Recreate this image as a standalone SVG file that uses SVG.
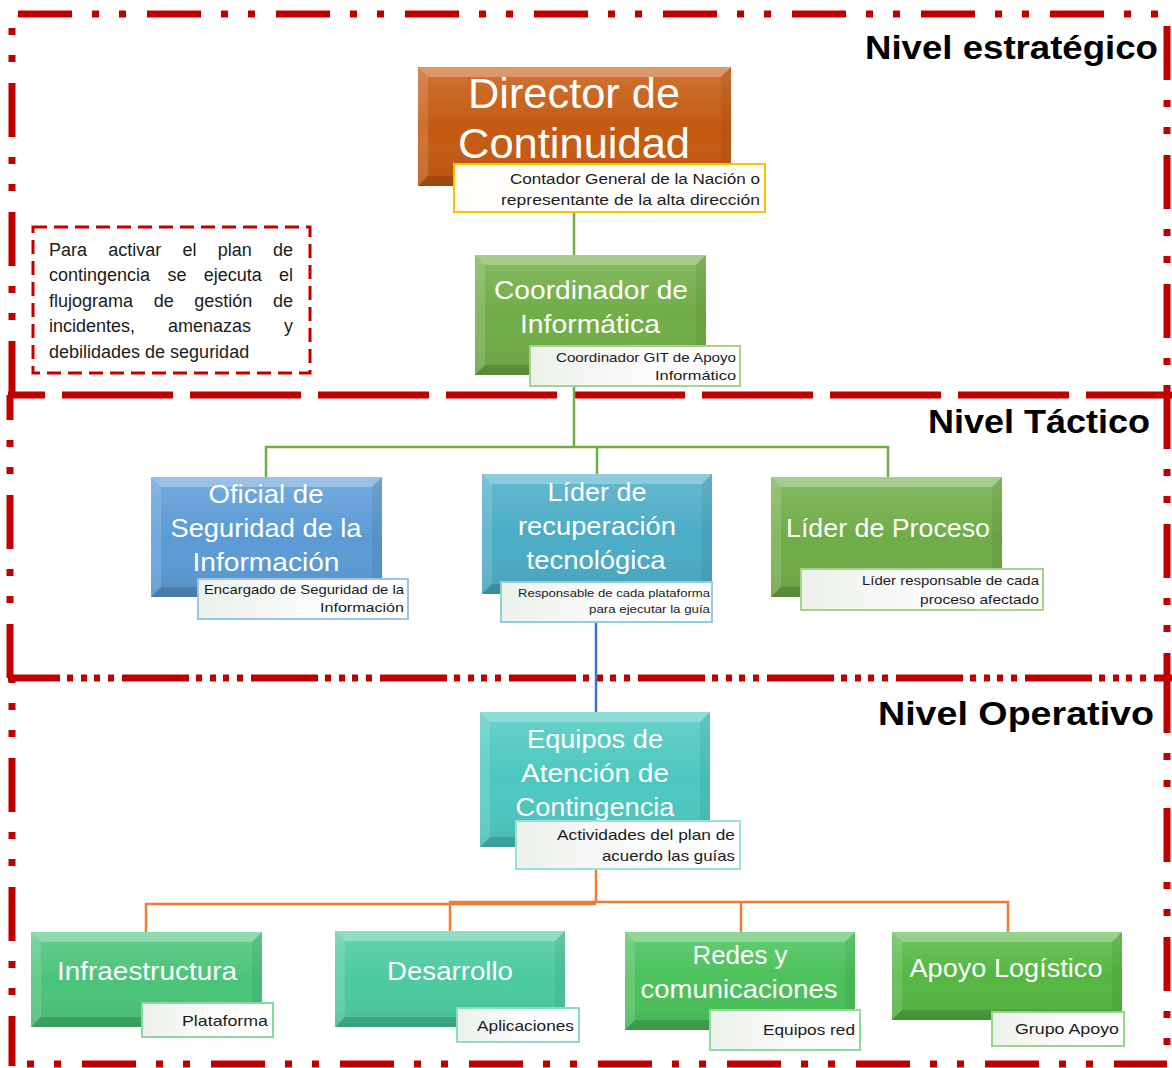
<svg xmlns="http://www.w3.org/2000/svg" width="1172" height="1068" viewBox="0 0 1172 1068">
<defs>
<linearGradient id="shade" x1="0" y1="0" x2="0" y2="1">
<stop offset="0" stop-color="#fff" stop-opacity="0.16"/>
<stop offset="0.5" stop-color="#fff" stop-opacity="0"/>
<stop offset="1" stop-color="#000" stop-opacity="0.08"/>
</linearGradient>
<linearGradient id="subg" x1="0" y1="0" x2="1" y2="0">
<stop offset="0" stop-color="#ECF1EA"/>
<stop offset="0.5" stop-color="#FAFBFA"/>
<stop offset="1" stop-color="#FFFFFF"/>
</linearGradient>
<style>
.fr{fill:none;stroke:#C00000;stroke-width:7}
.dd{stroke-dasharray:54 20 7 20 7 21}
.ld{stroke-dasharray:111 17}
.op{stroke-dasharray:67 7 6 8 6 7 6 8 6 8}
.bt{fill:#fff;opacity:.28}
.bl{fill:#fff;opacity:.14}
.bb{fill:#000;opacity:.14}
.br{fill:#000;opacity:.06}
.ov{fill:url(#shade)}
.t{font-family:"Liberation Sans",Arial,sans-serif;fill:#fff;text-anchor:middle}
.s{font-family:"Liberation Sans",Arial,sans-serif;fill:#1b1b1b;text-anchor:end}
.sb{fill:url(#subg);stroke-width:2}
.lv{font-family:"Liberation Sans",Arial,sans-serif;font-weight:bold;fill:#000;text-anchor:end;font-size:33px}
.nt{font-family:"Liberation Sans",Arial,sans-serif;fill:#1b1b1b;font-size:18px}
.cg{fill:none;stroke:#70AD47;stroke-width:2.5}
.cb{fill:none;stroke:#4472C4;stroke-width:2.5}
.co{fill:none;stroke:#ED7D31;stroke-width:2.5}
</style>
</defs>
<rect width="1172" height="1068" fill="#fff"/>

<g id="frames">
<path class="fr dd" d="M12,14 H1167" stroke-dashoffset="123"/>
<path class="fr dd" d="M12,14 V395" stroke-dashoffset="60"/>
<path class="fr dd" d="M1167,14 V395" stroke-dashoffset="117"/>
<path class="fr ld" d="M8,395 H1172" stroke-dashoffset="74"/>
<path class="fr dd" d="M10,395 V678" stroke-dashoffset="29"/>
<path class="fr dd" d="M1167,395 V678" stroke-dashoffset="0"/>
<path class="fr op" d="M8,678 H1172" stroke-dashoffset="15"/>
<path class="fr dd" d="M12,678 V1066" stroke-dashoffset="49"/>
<path class="fr dd" d="M1167,678 V1066" stroke-dashoffset="128"/>
<path class="fr dd" d="M12,1064 H1167" stroke-dashoffset="59" stroke-width="8"/>
</g>

<g id="levels">
<text class="lv" x="1158" y="59" textLength="293" lengthAdjust="spacingAndGlyphs">Nivel estratégico</text>
<text class="lv" x="1150" y="433" textLength="222" lengthAdjust="spacingAndGlyphs">Nivel Táctico</text>
<text class="lv" x="1154" y="725" textLength="276" lengthAdjust="spacingAndGlyphs">Nivel Operativo</text>
</g>

<g id="note">
<rect x="33" y="227" width="277" height="146" fill="none" stroke="#C00000" stroke-width="3" stroke-dasharray="14 7"/>
<text class="nt" y="256"><tspan x="49">Para</tspan><tspan x="108.3">activar</tspan><tspan x="182.5">el</tspan><tspan x="217.8">plan</tspan><tspan x="273">de</tspan></text>
<text class="nt" y="281"><tspan x="49">contingencia</tspan><tspan x="167.4">se</tspan><tspan x="203.7">ejecuta</tspan><tspan x="279">el</tspan></text>
<text class="nt" y="307"><tspan x="49">flujograma</tspan><tspan x="153.7">de</tspan><tspan x="194.3">gestión</tspan><tspan x="273">de</tspan></text>
<text class="nt" y="332"><tspan x="49">incidentes,</tspan><tspan x="168">amenazas</tspan><tspan x="284">y</tspan></text>
<text class="nt" x="49" y="358">debilidades de seguridad</text>
</g>

<g id="connectors">
<path class="cg" d="M574,212 V255"/>
<path class="cg" d="M574,386 V447"/>
<path class="cg" d="M266,477 V447 H888 V477"/>
<path class="cg" d="M597,447 V474"/>
<path class="cb" d="M596,622 V712"/>
<path class="co" d="M596,869 V903"/>
<path class="co" d="M146,932 V904 H596"/>
<path class="co" d="M450,931 V902 H1008 V932"/>
<path class="co" d="M741,902 V932"/>
</g>

<g id="director">
<rect x="418" y="67" width="313" height="119" fill="#C55A11"/>
<rect class="ov" x="418" y="67" width="313" height="119"/>
<polygon class="bt" points="418,67 731,67 721,77 428,77"/>
<polygon class="bl" points="418,67 428,77 428,176 418,186"/>
<polygon class="bb" points="418,186 428,176 721,176 731,186"/>
<polygon class="br" points="731,67 731,186 721,176 721,77"/>
<text class="t" x="574" y="108" font-size="42" textLength="212" lengthAdjust="spacingAndGlyphs">Director de</text>
<text class="t" x="574" y="158" font-size="42" textLength="232" lengthAdjust="spacingAndGlyphs">Continuidad</text>
<rect class="sb" x="454" y="164" width="311" height="48" stroke="#FFC000" style="fill:#FFFEFB"/>
<text class="s" x="760" y="184" font-size="15.5" textLength="250" lengthAdjust="spacingAndGlyphs">Contador General de la Nación o</text>
<text class="s" x="760" y="205" font-size="15.5" textLength="259" lengthAdjust="spacingAndGlyphs">representante de la alta dirección</text>
</g>

<g id="coordinador">
<rect x="475" y="255" width="231" height="120" fill="#70AD47"/>
<rect class="ov" x="475" y="255" width="231" height="120"/>
<polygon class="bt" points="475,255 706,255 696,265 485,265"/>
<polygon class="bl" points="475,255 485,265 485,365 475,375"/>
<polygon class="bb" points="475,375 485,365 696,365 706,375"/>
<polygon class="br" points="706,255 706,375 696,365 696,265"/>
<text class="t" x="591" y="299" font-size="26" textLength="194" lengthAdjust="spacingAndGlyphs">Coordinador de</text>
<text class="t" x="590" y="333" font-size="26" textLength="140" lengthAdjust="spacingAndGlyphs">Informática</text>
<rect class="sb" x="530" y="346" width="210" height="40" stroke="#A9D18E"/>
<text class="s" x="736" y="362" font-size="13" textLength="180" lengthAdjust="spacingAndGlyphs">Coordinador GIT de Apoyo</text>
<text class="s" x="736" y="380" font-size="13" textLength="81" lengthAdjust="spacingAndGlyphs">Informático</text>
</g>

<g id="oficial">
<rect x="151" y="477" width="231" height="120" fill="#5B9BD5"/>
<rect class="ov" x="151" y="477" width="231" height="120"/>
<polygon class="bt" points="151,477 382,477 372,487 161,487"/>
<polygon class="bl" points="151,477 161,487 161,587 151,597"/>
<polygon class="bb" points="151,597 161,587 372,587 382,597"/>
<polygon class="br" points="382,477 382,597 372,587 372,487"/>
<text class="t" x="266" y="503" font-size="26" textLength="115" lengthAdjust="spacingAndGlyphs">Oficial de</text>
<text class="t" x="266" y="537" font-size="26" textLength="191" lengthAdjust="spacingAndGlyphs">Seguridad de la</text>
<text class="t" x="266" y="571" font-size="26" textLength="147" lengthAdjust="spacingAndGlyphs">Información</text>
<rect class="sb" x="198" y="579" width="210" height="40" stroke="#9DC3E6"/>
<text class="s" x="404" y="594" font-size="13" textLength="200" lengthAdjust="spacingAndGlyphs">Encargado de Seguridad de la</text>
<text class="s" x="404" y="612" font-size="13" textLength="84" lengthAdjust="spacingAndGlyphs">Información</text>
</g>

<g id="lider-recuperacion">
<rect x="482" y="474" width="230" height="120" fill="#4BACC6"/>
<rect class="ov" x="482" y="474" width="230" height="120"/>
<polygon class="bt" points="482,474 712,474 702,484 492,484"/>
<polygon class="bl" points="482,474 492,484 492,584 482,594"/>
<polygon class="bb" points="482,594 492,584 702,584 712,594"/>
<polygon class="br" points="712,474 712,594 702,584 702,484"/>
<text class="t" x="597" y="501" font-size="26" textLength="99" lengthAdjust="spacingAndGlyphs">Líder de</text>
<text class="t" x="597" y="535" font-size="26" textLength="158" lengthAdjust="spacingAndGlyphs">recuperación</text>
<text class="t" x="596" y="569" font-size="26" textLength="139" lengthAdjust="spacingAndGlyphs">tecnológica</text>
<rect class="sb" x="501" y="582" width="211" height="40" stroke="#92CDDC"/>
<text class="s" x="710" y="597" font-size="11.5" textLength="192" lengthAdjust="spacingAndGlyphs">Responsable de cada plataforma</text>
<text class="s" x="710" y="613" font-size="11.5" textLength="121" lengthAdjust="spacingAndGlyphs">para ejecutar la guía</text>
</g>

<g id="lider-proceso">
<rect x="771" y="477" width="231" height="120" fill="#70AD47"/>
<rect class="ov" x="771" y="477" width="231" height="120"/>
<polygon class="bt" points="771,477 1002,477 992,487 781,487"/>
<polygon class="bl" points="771,477 781,487 781,587 771,597"/>
<polygon class="bb" points="771,597 781,587 992,587 1002,597"/>
<polygon class="br" points="1002,477 1002,597 992,587 992,487"/>
<text class="t" x="888" y="537" font-size="26" textLength="204" lengthAdjust="spacingAndGlyphs">Líder de Proceso</text>
<rect class="sb" x="801" y="569" width="242" height="41" stroke="#A9D18E"/>
<text class="s" x="1039" y="585" font-size="13" textLength="177" lengthAdjust="spacingAndGlyphs">Líder responsable de cada</text>
<text class="s" x="1039" y="604" font-size="13" textLength="119" lengthAdjust="spacingAndGlyphs">proceso afectado</text>
</g>

<g id="equipos">
<rect x="480" y="712" width="230" height="135" fill="#4CC8C0"/>
<rect class="ov" x="480" y="712" width="230" height="135"/>
<polygon class="bt" points="480,712 710,712 700,722 490,722"/>
<polygon class="bl" points="480,712 490,722 490,837 480,847"/>
<polygon class="bb" points="480,847 490,837 700,837 710,847"/>
<polygon class="br" points="710,712 710,847 700,837 700,722"/>
<text class="t" x="595" y="748" font-size="26" textLength="136" lengthAdjust="spacingAndGlyphs">Equipos de</text>
<text class="t" x="595" y="782" font-size="26" textLength="148" lengthAdjust="spacingAndGlyphs">Atención de</text>
<text class="t" x="595" y="816" font-size="26" textLength="159" lengthAdjust="spacingAndGlyphs">Contingencia</text>
<rect class="sb" x="516" y="821" width="224" height="48" stroke="#9BE0DA"/>
<text class="s" x="735" y="840" font-size="15" textLength="178" lengthAdjust="spacingAndGlyphs">Actividades del plan de</text>
<text class="s" x="735" y="861" font-size="15" textLength="133" lengthAdjust="spacingAndGlyphs">acuerdo las guías</text>
</g>

<g id="infraestructura">
<rect x="31" y="932" width="231" height="95" fill="#4AC47A"/>
<rect class="ov" x="31" y="932" width="231" height="95"/>
<polygon class="bt" points="31,932 262,932 252,942 41,942"/>
<polygon class="bl" points="31,932 41,942 41,1017 31,1027"/>
<polygon class="bb" points="31,1027 41,1017 252,1017 262,1027"/>
<polygon class="br" points="262,932 262,1027 252,1017 252,942"/>
<text class="t" x="147" y="980" font-size="25" textLength="180" lengthAdjust="spacingAndGlyphs">Infraestructura</text>
<rect class="sb" x="142" y="1003" width="131" height="34" stroke="#86D8A4"/>
<text class="s" x="268" y="1026" font-size="15" textLength="86" lengthAdjust="spacingAndGlyphs">Plataforma</text>
</g>

<g id="desarrollo">
<rect x="335" y="931" width="230" height="96" fill="#4CCA9E"/>
<rect class="ov" x="335" y="931" width="230" height="96"/>
<polygon class="bt" points="335,931 565,931 555,941 345,941"/>
<polygon class="bl" points="335,931 345,941 345,1017 335,1027"/>
<polygon class="bb" points="335,1027 345,1017 555,1017 565,1027"/>
<polygon class="br" points="565,931 565,1027 555,1017 555,941"/>
<text class="t" x="450" y="980" font-size="25" textLength="126" lengthAdjust="spacingAndGlyphs">Desarrollo</text>
<rect class="sb" x="457" y="1008" width="122" height="34" stroke="#8ADDC2"/>
<text class="s" x="574" y="1031" font-size="15" textLength="97" lengthAdjust="spacingAndGlyphs">Aplicaciones</text>
</g>

<g id="redes">
<rect x="625" y="932" width="230" height="98" fill="#4AC15A"/>
<rect class="ov" x="625" y="932" width="230" height="98"/>
<polygon class="bt" points="625,932 855,932 845,942 635,942"/>
<polygon class="bl" points="625,932 635,942 635,1020 625,1030"/>
<polygon class="bb" points="625,1030 635,1020 845,1020 855,1030"/>
<polygon class="br" points="855,932 855,1030 845,1020 845,942"/>
<text class="t" x="740" y="964" font-size="25" textLength="95" lengthAdjust="spacingAndGlyphs">Redes y</text>
<text class="t" x="739" y="998" font-size="25" textLength="197" lengthAdjust="spacingAndGlyphs">comunicaciones</text>
<rect class="sb" x="710" y="1010" width="150" height="40" stroke="#8FD99A"/>
<text class="s" x="855" y="1035" font-size="15" textLength="92" lengthAdjust="spacingAndGlyphs">Equipos red</text>
</g>

<g id="apoyo">
<rect x="892" y="932" width="230" height="88" fill="#55B742"/>
<rect class="ov" x="892" y="932" width="230" height="88"/>
<polygon class="bt" points="892,932 1122,932 1112,942 902,942"/>
<polygon class="bl" points="892,932 902,942 902,1010 892,1020"/>
<polygon class="bb" points="892,1020 902,1010 1112,1010 1122,1020"/>
<polygon class="br" points="1122,932 1122,1020 1112,1010 1112,942"/>
<text class="t" x="1006" y="977" font-size="25" textLength="193" lengthAdjust="spacingAndGlyphs">Apoyo Logístico</text>
<rect class="sb" x="992" y="1012" width="132" height="34" stroke="#97D58A"/>
<text class="s" x="1119" y="1034" font-size="15" textLength="104" lengthAdjust="spacingAndGlyphs">Grupo Apoyo</text>
</g>
</svg>
